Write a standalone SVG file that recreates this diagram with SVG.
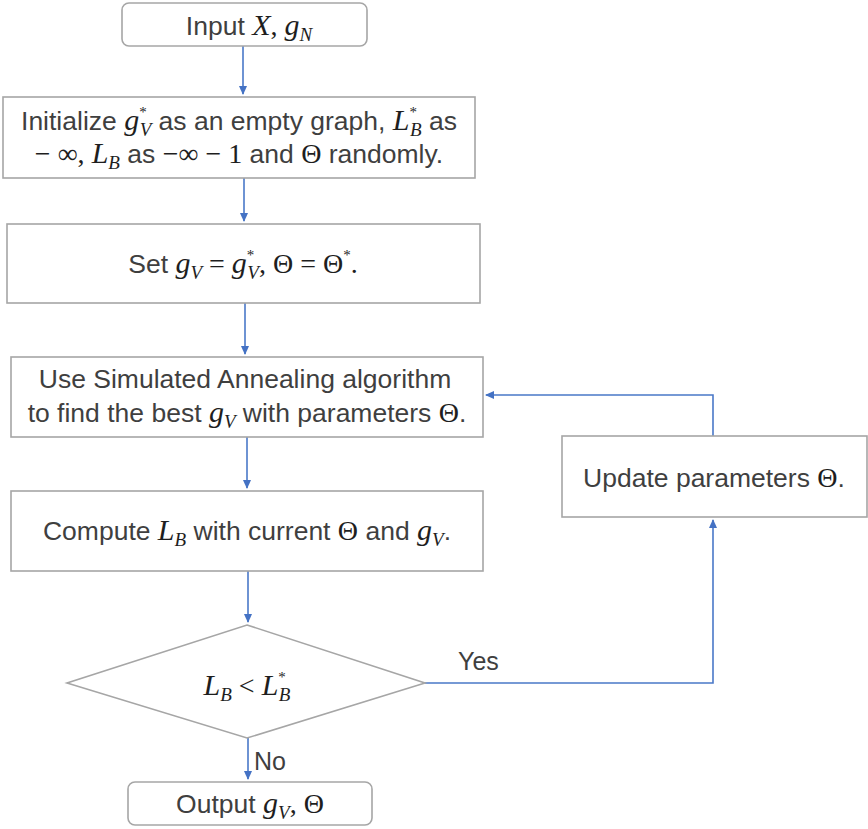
<svg xmlns="http://www.w3.org/2000/svg" width="868" height="829" viewBox="0 0 868 829">
<defs>
<marker id="ah" markerWidth="9" markerHeight="8" refX="8" refY="4" orient="auto" markerUnits="userSpaceOnUse"><path d="M0,0 L9,4 L0,8 z" fill="#4472c4"/></marker>
<style>
.box{fill:#fff;stroke:#a6a6a6;stroke-width:1.6}
.t{font-family:"Liberation Sans",Arial,sans-serif;font-size:26.5px;fill:#3f3f3f;text-anchor:middle}
.tl{font-family:"Liberation Sans",Arial,sans-serif;font-size:25px;fill:#3f3f3f}
.m{font-family:"Liberation Serif","DejaVu Serif",serif;font-style:italic;fill:#1e1e1e;font-size:30px}
.s{font-family:"Liberation Serif","DejaVu Serif",serif;font-style:italic;fill:#1e1e1e;font-size:19px}
.k{font-family:"Liberation Serif","DejaVu Serif",serif;fill:#1e1e1e;font-size:15px}
.u{font-family:"Liberation Serif","DejaVu Serif",serif;fill:#1e1e1e;font-size:28px}
.e{stroke:#4a78c8;stroke-width:1.6;fill:none;marker-end:url(#ah)}
</style>
</defs>
<g id="connectors">
<path class="e" d="M243,46 V94"/>
<path class="e" d="M244,178 V221"/>
<path class="e" d="M245,303 V354"/>
<path class="e" d="M247,437 V488"/>
<path class="e" d="M248,571 V622"/>
<path class="e" d="M248,738 V779"/>
<path class="e" d="M425,683 H713 V520"/>
<path class="e" d="M713,436 V395 H486"/>
<text class="tl" x="458" y="670">Yes</text>
<text class="tl" x="254" y="770">No</text>
</g>
<g id="n-input">
<rect class="box" x="122" y="3" width="245" height="43" rx="7"/>
<text class="t" x="249" y="35">Input <tspan class="m">X</tspan><tspan class="u">, </tspan><tspan class="m">g</tspan><tspan class="s" dy="6">N</tspan></text>
</g>
<g id="n-init">
<rect class="box" x="3" y="97" width="472" height="81"/>
<text class="t" x="239" y="130">Initialize <tspan class="m">g</tspan><tspan class="k" dy="-13">*</tspan><tspan class="s" dx="-7" dy="19">V</tspan><tspan dy="-6"> as an empty graph, </tspan><tspan class="m">L</tspan><tspan class="k" dy="-13">*</tspan><tspan class="s" dx="-7" dy="19">B</tspan><tspan dy="-6"> as</tspan></text>
<text class="t" x="239" y="163"><tspan class="u">− ∞,  </tspan><tspan class="m">L</tspan><tspan class="s" dy="6">B</tspan><tspan dy="-6"> as </tspan><tspan class="u">−∞ − 1</tspan> and <tspan class="u">Θ</tspan> randomly.</text>
</g>
<g id="n-set">
<rect class="box" x="7" y="224" width="473" height="79"/>
<text class="t" x="243" y="273">Set <tspan class="m">g</tspan><tspan class="s" dy="6">V</tspan><tspan class="u" dy="-6"> = </tspan><tspan class="m">g</tspan><tspan class="k" dy="-13">*</tspan><tspan class="s" dx="-7" dy="19">V</tspan><tspan class="u" dy="-6">, Θ = Θ</tspan><tspan class="k" dy="-13">*</tspan><tspan class="u" dy="13">.</tspan></text>
</g>
<g id="n-sa">
<rect class="box" x="11" y="357" width="472" height="80"/>
<text class="t" x="245" y="388">Use Simulated Annealing algorithm</text>
<text class="t" x="247" y="422">to find the best <tspan class="m">g</tspan><tspan class="s" dy="6">V</tspan><tspan dy="-6"> with parameters </tspan><tspan class="u">Θ</tspan>.</text>
</g>
<g id="n-compute">
<rect class="box" x="11" y="491" width="472" height="80"/>
<text class="t" x="247" y="540">Compute <tspan class="m">L</tspan><tspan class="s" dy="6">B</tspan><tspan dy="-6"> with current </tspan><tspan class="u">Θ</tspan> and <tspan class="m">g</tspan><tspan class="s" dy="6">V</tspan><tspan dy="-6">.</tspan></text>
</g>
<g id="n-cond">
<polygon class="box" points="247,625 425,683 247,738 67,683"/>
<text class="t" x="247" y="695"><tspan class="m">L</tspan><tspan class="s" dy="6">B</tspan><tspan class="u" dy="-6"> &lt; </tspan><tspan class="m">L</tspan><tspan class="k" dy="-13">*</tspan><tspan class="s" dx="-7" dy="19">B</tspan></text>
</g>
<g id="n-update">
<rect class="box" x="562" y="436" width="305" height="81"/>
<text class="t" x="714" y="487">Update parameters <tspan class="u">Θ</tspan>.</text>
</g>
<g id="n-output">
<rect class="box" x="128" y="782" width="244" height="43" rx="7"/>
<text class="t" x="250" y="813">Output <tspan class="m">g</tspan><tspan class="s" dy="6">V</tspan><tspan class="u" dy="-6">, Θ</tspan></text>
</g>
</svg>
